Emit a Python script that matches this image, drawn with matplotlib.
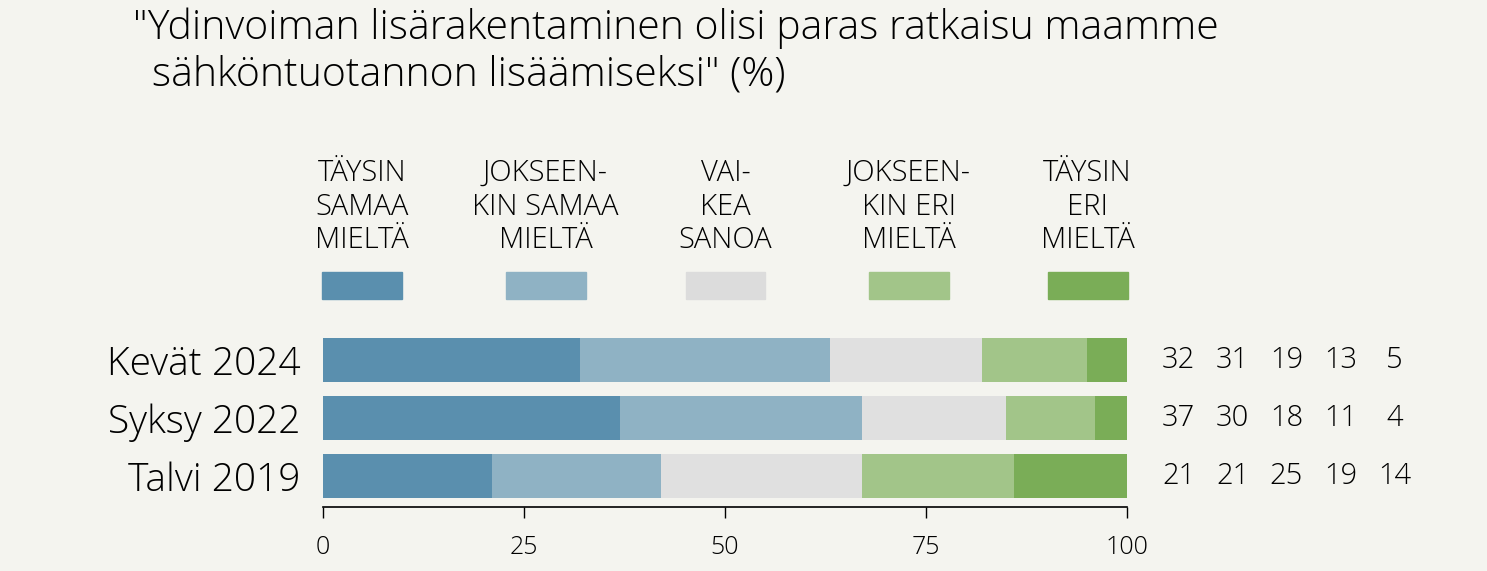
import matplotlib.pyplot as plt
import numpy as np

plt.rcParams['font.family'] = ['Open Sans', 'DejaVu Sans']
plt.rcParams['font.weight'] = 'light'

# data
periods = ["Kevät 2024", "Syksy 2022", "Talvi 2019"]
taysin_samaa = [32, 37, 21]
jokseenkin_samaa = [31, 30, 21]
vaikea_sanoa = [19, 18, 25]
jokseenkin_eri = [13, 11, 19]
taysin_eri = [5, 4, 14]
categories = ["TÄYSIN\nSAMAA\nMIELTÄ", "JOKSEEN-\nKIN SAMAA\nMIELTÄ", "VAI-\nKEA\nSANOA",
              "JOKSEEN-\nKIN ERI\nMIELTÄ", "TÄYSIN\nERI\nMIELTÄ"]
title1 = "\"Ydinvoiman lisärakentaminen olisi paras ratkaisu maamme"
title2 = "sähköntuotannon lisäämiseksi\" (%)"

colors = ["#5a8fae", "#8fb2c4", "#e0e0e0", "#a2c589", "#7aad57"]
legend_colors = ["#5a8fae", "#8fb2c4", "#dcdcdc", "#a2c589", "#7aad57"]
bg = "#f4f4ef"

series = [taysin_samaa, jokseenkin_samaa, vaikea_sanoa, jokseenkin_eri, taysin_eri]

fig = plt.figure(figsize=(14.87, 5.71), dpi=100, facecolor=bg)
W, H = 1487, 571
ax = fig.add_axes([323 / W, 1 - 507 / H, (1127 - 323) / W, (507 - 338) / H])
ax.set_facecolor(bg)

ypos = np.arange(len(periods))[::-1]  # Kevät at top
left = np.zeros(len(periods))
for vals, c in zip(series, colors):
    ax.barh(ypos, vals, left=left, height=0.76, color=c)
    left += np.array(vals)

ax.set_xlim(0, 100)
ax.set_ylim(-31 / 58, 2 + 22 / 58)
ax.set_xticks([0, 25, 50, 75, 100])
ax.tick_params(axis='x', length=8, width=1, labelsize=18, pad=12, colors='black')
ax.set_yticks(ypos)
ax.set_yticklabels(periods, fontsize=28)
ax.tick_params(axis='y', length=0, pad=16)
for s in ['top', 'right', 'left']:
    ax.spines[s].set_visible(False)
ax.spines['bottom'].set_linewidth(1.2)

# value columns to the right
for i, vals in enumerate(series):
    for y, v in zip(ypos, vals):
        ax.text(106.4 + i * 6.72, y, str(v), ha='center', va='center',
                fontsize=21, clip_on=False)

# legend swatches and labels above the bars
centers = [362, 545.5, 725.5, 908.5, 1087.5]
for cx, lab, c in zip(centers, categories, legend_colors):
    fig.patches.append(plt.Rectangle(((cx - 40) / W, 1 - 299 / H), 80 / W, 27 / H,
                                     transform=fig.transFigure, color=c))
    fig.text(cx / W, 1 - 207 / H, lab, ha='center', va='center', fontsize=21,
             linespacing=1.18)

fig.text(133 / W, 1 - 39 / H, title1, ha='left', va='baseline', fontsize=29.5)
fig.text(152 / W, 1 - 86 / H, title2, ha='left', va='baseline', fontsize=29.5)

fig.savefig("out.png", dpi=100, facecolor=bg)
